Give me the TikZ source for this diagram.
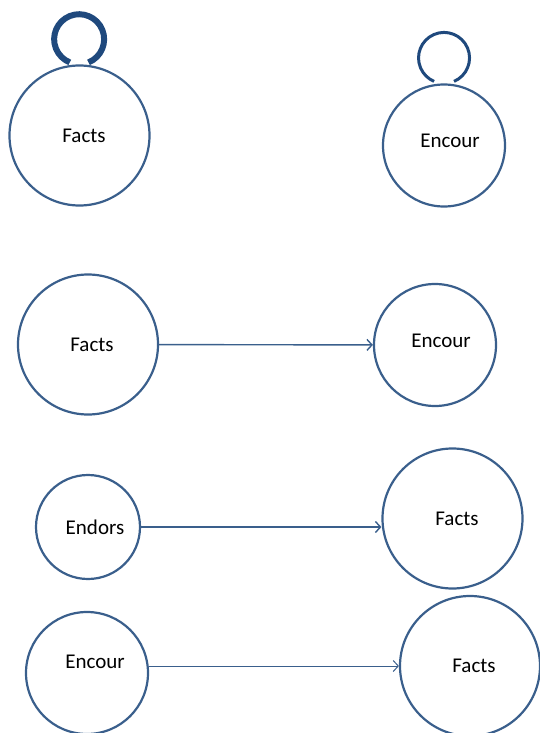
\documentclass[tikz,border=0pt]{standalone}
\usepackage{fontspec}
\setmainfont{Carlito}
\usetikzlibrary{arrows.meta}
\definecolor{ringblue}{RGB}{58,95,140}
\definecolor{loopblue}{RGB}{31,73,125}
\begin{document}
\begin{tikzpicture}[x=1pt,y=1pt,
		state/.style={circle,draw=ringblue,line width=2.2pt,inner sep=0pt},
		txt/.style={font=\fontsize{21}{24}\selectfont,inner sep=0pt},
		big/.style={state,minimum size=140pt},
		mid/.style={state,minimum size=122pt},
		small/.style={state,minimum size=104pt},
		link/.style={->,draw=ringblue,line width=1.4pt},
		>={Straight Barb[length=5pt,width=11pt]}]
			\useasboundingbox (0,0) rectangle (539,-733);

			% Les boucles
			\node[big,label={[txt,xshift=4.5pt]center:Facts}] (f1) at (79.5,-135.5) {};
			\node[mid,label={[txt,xshift=6pt,yshift=4.5pt]center:Encour}] (e1) at (444,-145.5) {};
			\draw[loopblue,line width=6pt] ([xshift=9pt,yshift=2pt]f1.north) arc[start angle=-68,end angle=248,radius=25pt];
			\draw[loopblue,line width=3pt] ([xshift=10pt,yshift=2pt]e1.north) arc[start angle=-67,end angle=247,radius=25.5pt];

			% Les liens
			\node[big,label={[txt,xshift=4pt]center:Facts}] (f2) at (88,-344.5) {};
			\node[mid,label={[txt,xshift=6pt,yshift=4pt]center:Encour}] (e2) at (435,-345) {};
			\draw[link] (f2) -- (e2);

			\node[small,label={[txt,xshift=7pt]center:Endors}] (d3) at (88,-527) {};
			\node[big,label={[txt,xshift=4.5pt]center:Facts}] (f3) at (452.5,-518.5) {};
			\draw[link] (d3.east) -- (f3.west |- d3.east);

			\node[mid,label={[txt,xshift=8pt,yshift=11pt]center:Encour}] (e4) at (87,-673) {};
			\node[big,label={[txt,xshift=4pt]center:Facts}] (f4) at (470,-666) {};
			\draw[link,line width=1pt] (e4.east |- f4) -- (f4.west);
		\end{tikzpicture}
\end{document}
